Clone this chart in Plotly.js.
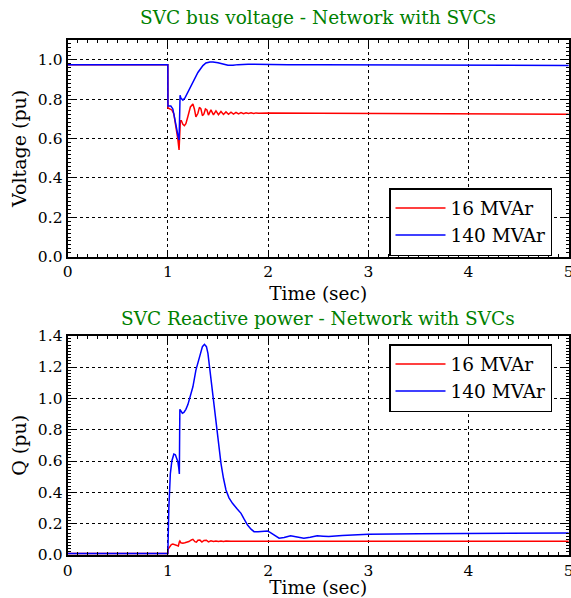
<!DOCTYPE html>
<html>
<head>
<meta charset="utf-8">
<script src="https://cdn.plot.ly/plotly-3.0.1.min.js"></script>
<style>html,body{margin:0;padding:0;background:#fff;}#chart{width:571px;height:598px;}</style>
</head>
<body>
<div id="chart"></div>
<script>
// ---- Data ----
const seriesNames = ['16 MVAr', '140 MVAr'];
const xTickVals = [0, 1, 2, 3, 4, 5];

// Voltage, 16 MVAr SVC
const tV16 = [0, 1.0, 1.001, 1.02, 1.04, 1.06, 1.08, 1.10, 1.112, 1.118, 1.125, 1.135, 1.15, 1.165, 1.18, 1.20, 1.225, 1.25, 1.265, 1.28, 1.30, 1.315, 1.33, 1.345, 1.36, 1.375, 1.39, 1.405, 1.43, 1.455, 1.48, 1.505, 1.53, 1.555, 1.58, 1.605, 1.63, 1.655, 1.68, 1.705, 1.73, 1.755, 1.78, 1.805, 1.83, 1.855, 1.88, 1.905, 1.93, 1.955, 1.98, 2.0, 2.5, 3.0, 4.0, 5.0];
const vV16 = [0.975, 0.975, 0.755, 0.750, 0.745, 0.725, 0.670, 0.595, 0.542, 0.600, 0.690, 0.690, 0.672, 0.665, 0.675, 0.712, 0.760, 0.775, 0.750, 0.710, 0.728, 0.758, 0.750, 0.716, 0.725, 0.750, 0.745, 0.719, 0.745, 0.720, 0.740, 0.721, 0.737, 0.722, 0.735, 0.723, 0.734, 0.724, 0.733, 0.725, 0.732, 0.726, 0.731, 0.727, 0.730, 0.727, 0.730, 0.728, 0.729, 0.728, 0.729, 0.729, 0.728, 0.727, 0.725, 0.723];

// Voltage, 140 MVAr SVC
const tV140 = [0, 1.0, 1.001, 1.03, 1.05, 1.07, 1.09, 1.105, 1.112, 1.117, 1.122, 1.13, 1.15, 1.17, 1.20, 1.25, 1.30, 1.35, 1.38, 1.42, 1.45, 1.50, 1.55, 1.60, 1.65, 1.70, 1.80, 1.90, 2.0, 2.2, 2.5, 3.0, 4.0, 5.0];
const vV140 = [0.975, 0.975, 0.765, 0.765, 0.750, 0.705, 0.645, 0.605, 0.592, 0.700, 0.820, 0.805, 0.795, 0.805, 0.835, 0.883, 0.935, 0.970, 0.983, 0.988, 0.988, 0.984, 0.978, 0.972, 0.972, 0.975, 0.977, 0.976, 0.974, 0.975, 0.974, 0.973, 0.972, 0.971];

// Reactive power, 16 MVAr SVC
const tQ16 = [0, 1.0, 1.005, 1.02, 1.035, 1.05, 1.07, 1.09, 1.105, 1.115, 1.12, 1.13, 1.15, 1.17, 1.19, 1.21, 1.235, 1.25, 1.27, 1.285, 1.30, 1.32, 1.34, 1.36, 1.385, 1.405, 1.43, 1.455, 1.48, 1.505, 1.53, 1.555, 1.58, 1.605, 1.63, 1.70, 2.0, 3.0, 5.0];
const vQ16 = [0.01, 0.01, 0.040, 0.055, 0.066, 0.070, 0.066, 0.062, 0.058, 0.085, 0.090, 0.078, 0.075, 0.078, 0.082, 0.086, 0.096, 0.100, 0.085, 0.082, 0.094, 0.095, 0.083, 0.093, 0.094, 0.084, 0.091, 0.086, 0.090, 0.086, 0.089, 0.086, 0.089, 0.087, 0.088, 0.087, 0.087, 0.087, 0.087];

// Reactive power, 140 MVAr SVC
const tQ140 = [0, 1.0, 1.01, 1.025, 1.04, 1.06, 1.075, 1.09, 1.10, 1.108, 1.115, 1.118, 1.12, 1.13, 1.145, 1.16, 1.18, 1.20, 1.225, 1.25, 1.28, 1.315, 1.345, 1.365, 1.385, 1.40, 1.43, 1.455, 1.48, 1.505, 1.53, 1.555, 1.58, 1.61, 1.645, 1.69, 1.73, 1.76, 1.795, 1.83, 1.86, 1.90, 1.93, 1.96, 1.995, 2.02, 2.045, 2.08, 2.11, 2.16, 2.225, 2.29, 2.357, 2.42, 2.49, 2.55, 2.606, 2.74, 2.85, 3.0, 3.5, 4.0, 4.5, 5.0];
const vQ140 = [0.01, 0.01, 0.30, 0.52, 0.60, 0.645, 0.640, 0.610, 0.596, 0.560, 0.517, 0.800, 0.930, 0.920, 0.905, 0.910, 0.930, 0.960, 1.020, 1.074, 1.180, 1.265, 1.330, 1.345, 1.330, 1.287, 1.117, 0.990, 0.862, 0.720, 0.585, 0.490, 0.415, 0.365, 0.330, 0.295, 0.266, 0.230, 0.191, 0.165, 0.149, 0.148, 0.149, 0.153, 0.153, 0.145, 0.134, 0.118, 0.107, 0.112, 0.123, 0.115, 0.107, 0.113, 0.123, 0.120, 0.118, 0.125, 0.128, 0.132, 0.135, 0.138, 0.140, 0.141];

// ---- Styling ----
const FONT = 'DejaVu Serif, Liberation Serif, serif';
const red = 'rgb(255,0,0)', blue = 'rgb(0,0,255)';

function line(x, y, name, color, xa, ya, leg) {
  return {x: x, y: y, name: name, type: 'scatter', mode: 'lines',
    line: {color: color, width: 1.5}, xaxis: xa, yaxis: ya,
    legend: leg, legendgroup: leg + name};
}

const traces = [
  line(tV16, vV16, seriesNames[0], red, 'x', 'y', 'legend'),
  line(tV140, vV140, seriesNames[1], blue, 'x', 'y', 'legend'),
  line(tQ16, vQ16, seriesNames[0], red, 'x2', 'y2', 'legend2'),
  line(tQ140, vQ140, seriesNames[1], blue, 'x2', 'y2', 'legend2')
];

const W = 571, H = 598;
const xDom = [67.6 / W, 568.8 / W];
const yDomTop = [(H - 256.7) / H, (H - 40) / H];
const yDomBot = [(H - 555) / H, (H - 335.7) / H];

function xaxis(anchor) {
  return {domain: xDom, range: [0, 5], anchor: anchor, tickvals: xTickVals,
    ticks: 'inside', ticklen: 6, tickwidth: 1, tickcolor: 'black',
    minor: {dtick: 0.1, ticks: 'inside', ticklen: 3, tickwidth: 1, tickcolor: 'black', showgrid: false},
    showgrid: true, griddash: 'dot', gridcolor: 'black', gridwidth: 1,
    showline: true, linecolor: 'black', linewidth: 2, mirror: 'allticks', zeroline: false,
    ticklabeloverflow: 'allow',
    tickfont: {family: FONT, size: 15.5, color: 'black'},
    title: {text: 'Time (sec)', font: {family: FONT, size: 18.5, color: 'black'}, standoff: 7}};
}
function yaxis(anchor, dom, range, title) {
  return {domain: dom, range: range, anchor: anchor, dtick: 0.2, tick0: 0, tickformat: '.1f',
    ticks: 'inside', ticklen: 6, tickwidth: 1, tickcolor: 'black',
    minor: {dtick: 0.02, ticks: 'inside', ticklen: 3, tickwidth: 1, tickcolor: 'black', showgrid: false},
    showgrid: true, griddash: 'dot', gridcolor: 'black', gridwidth: 1,
    showline: true, linecolor: 'black', linewidth: 2, mirror: 'allticks', zeroline: false,
    ticklabeloverflow: 'allow',
    tickfont: {family: FONT, size: 15.5, color: 'black'},
    title: {text: title, font: {family: FONT, size: 19, color: 'black'}, standoff: 6}};
}
function legend(yTop) {
  return {x: 389 / W, y: (H - yTop) / H, xanchor: 'left', yanchor: 'top',
    bgcolor: 'white', bordercolor: 'black', borderwidth: 1.5,
    font: {family: FONT, size: 18.5, color: 'black'}, tracegroupgap: 0, itemwidth: 50};
}

const layout = {
  width: W, height: H, margin: {l: 0, r: 0, t: 0, b: 0},
  paper_bgcolor: 'white', plot_bgcolor: 'white', showlegend: true,
  xaxis: xaxis('y'), yaxis: yaxis('x', yDomTop, [0, 1.1], 'Voltage (pu)'),
  xaxis2: xaxis('y2'), yaxis2: yaxis('x2', yDomBot, [0, 1.4], 'Q (pu)'),
  legend: legend(188), legend2: legend(344),
  annotations: [
    {text: 'SVC bus voltage - Network with SVCs', xref: 'paper', yref: 'paper',
     x: (xDom[0] + xDom[1]) / 2, y: 1 - 18 / H, xanchor: 'center', yanchor: 'middle', showarrow: false,
     font: {family: FONT, size: 18.5, color: 'rgb(0,128,0)'}},
    {text: 'SVC Reactive power - Network with SVCs', xref: 'paper', yref: 'paper',
     x: (xDom[0] + xDom[1]) / 2, y: 1 - 318 / H, xanchor: 'center', yanchor: 'middle', showarrow: false,
     font: {family: FONT, size: 18.5, color: 'rgb(0,128,0)'}}
  ]
};

Plotly.newPlot('chart', traces, layout, {staticPlot: true, displayModeBar: false});
</script>
</body>
</html>
